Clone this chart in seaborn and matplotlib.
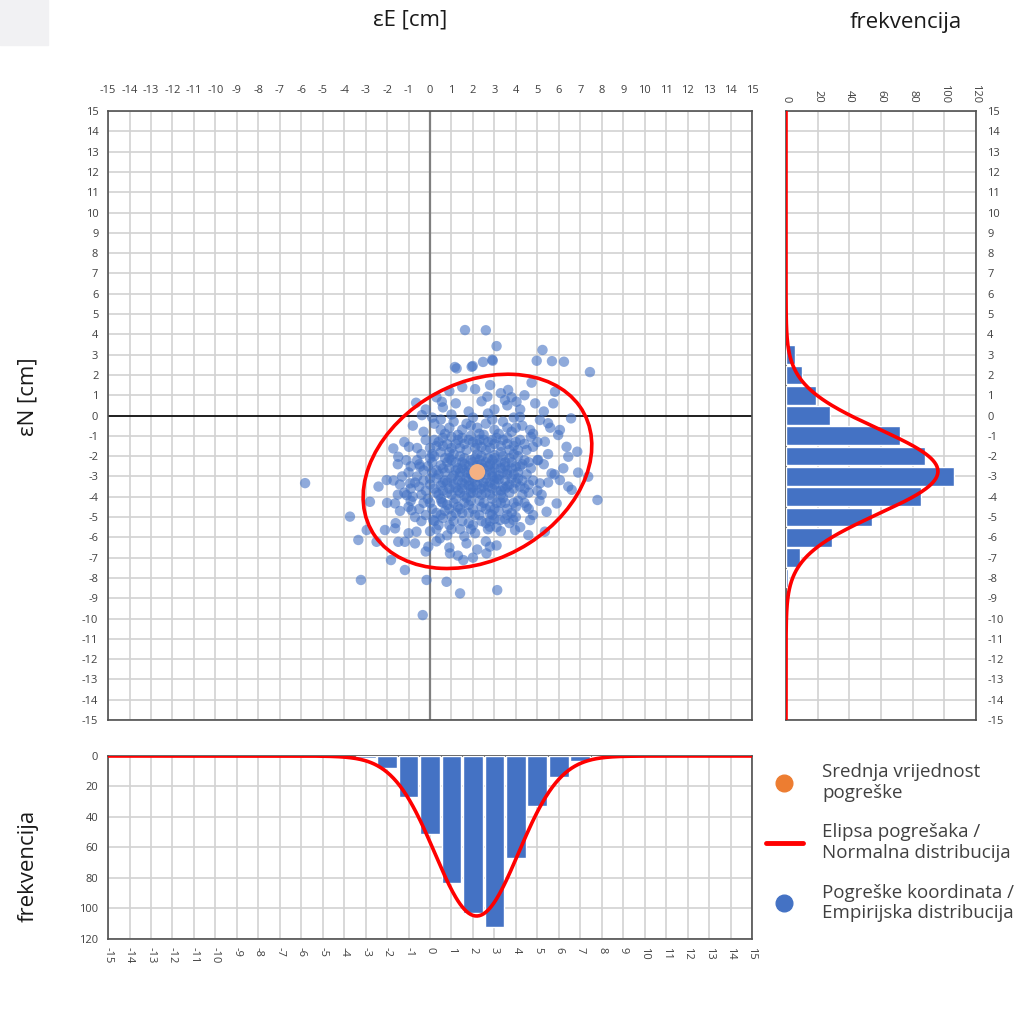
import numpy as np
import pandas as pd
import matplotlib
matplotlib.use("Agg")
import matplotlib.pyplot as plt
from matplotlib.patches import Ellipse, Rectangle
from matplotlib.lines import Line2D
import seaborn as sns

# coordinate errors (eE, eN) in cm
points = [
    # outer points
    (1.63, 4.21), (2.6, 4.2), (3.1, 3.42), (2.9, 2.75), (5.24, 3.23), (4.97, 2.70),
    (5.68, 2.68), (6.24, 2.65), (7.45, 2.14), (1.16, 2.39), (1.24, 2.32), (1.99, 2.44),
    (2.47, 2.64), (2.92, 2.70), (1.94, 2.4), (-0.65, 0.63), (-0.38, 0.02), (0.55, 0.68),
    (-1.71, -1.62), (-1.48, -2.03), (-0.98, -1.54), (-2.02, -3.18), (-2.8, -4.25),
    (-3.73, -4.98), (-3.34, -6.13), (-2.95, -5.64), (-2.49, -6.22), (-2.1, -5.64),
    (-1.63, -5.56), (-1.48, -6.22), (-1.17, -6.22), (-1.82, -7.12), (-1.17, -7.61),
    (-3.22, -8.1), (-0.16, -8.1), (0.77, -8.19), (1.4, -8.76), (-0.34, -9.83),
    (-0.86, -4.66), (-1.09, -3.92), (-1.63, -4.33), (-0.93, -3.34), (-0.47, -2.52),
    (-0.63, -5.72), (-0.08, -6.46), (0.46, -6.05), (0.93, -6.79), (1.55, -7.12),
    (0.15, -5.15), (0.54, -4.25), (-5.82, -3.33),
    (3.64, 1.26), (4.73, 1.62), (5.82, 1.17), (5.74, 0.6), (6.57, -0.14), (6.05, -0.71),
    (5.5, -0.38), (6.36, -1.54), (6.86, -1.78), (6.44, -2.03), (6.21, -2.6), (6.9, -2.81),
    (7.37, -3.01), (6.05, -3.18), (6.44, -3.5), (6.6, -3.66), (7.8, -4.16), (5.9, -4.33),
    (5.43, -4.74), (5.35, -5.72), (4.58, -5.89), (3.96, -5.64), (3.13, -8.6),
    (5.04, -2.19), (5.12, -3.34), (5.66, -2.85), (4.8, -1.54), (5.35, -1.29),
    (5.97, -0.96), (5.12, -0.22), (4.66, -0.71), (4.19, -0.07), (4.03, 0.68),
    (3.49, 0.76), (2.67, 0.93), (4.5, -4.49), (4.66, -5.15), (3.88, -5.15),
    (3.26, -5.15), (2.79, -5.48), (2.79, -6.46), (2.63, -6.79),
    # band 1 .. 0
    (0.3, 0.9), (0.9, 1.2), (1.5, 1.4), (2.1, 1.3), (2.8, 1.5), (3.3, 1.1), (3.8, 0.9),
    (4.4, 1.0), (0.6, 0.4), (1.2, 0.6), (1.8, 0.2), (2.4, 0.7), (3.0, 0.3), (3.6, 0.5),
    (4.2, 0.3), (4.9, 0.6), (-0.2, 0.3), (0.1, -0.1), (1.0, 0.05), (2.0, -0.1),
    (2.7, 0.1), (3.9, -0.1), (5.3, 0.2),
    # band 0 .. -1
    (-0.8, -0.5), (-0.3, -0.8), (0.2, -0.4), (0.7, -0.9), (1.1, -0.3), (1.5, -0.7),
    (1.9, -0.5), (2.3, -0.9), (2.6, -0.4), (3.0, -0.7), (3.4, -0.3), (3.8, -0.8),
    (4.3, -0.5), (4.8, -0.9), (5.6, -0.6), (0.5, -0.2), (2.9, -0.2), (1.3, -0.95),
    (4.0, -0.6), (0.5, -0.7), (1.7, -0.4), (2.2, -0.6), (3.2, -0.9), (0.9, -0.6),
    (2.5, -0.95), (3.6, -0.6),
    # band -1 .. -2
    (-1.2, -1.3), (-0.6, -1.6), (-0.2, -1.2), (0.3, -1.5), (0.6, -1.1), (0.9, -1.8),
    (1.2, -1.4), (1.5, -1.1), (1.7, -1.7), (2.0, -1.3), (2.2, -1.9), (2.5, -1.2),
    (2.8, -1.6), (3.1, -1.1), (3.3, -1.8), (3.6, -1.4), (3.9, -1.9), (4.2, -1.2),
    (4.5, -1.7), (5.0, -1.3), (5.5, -1.9), (1.0, -1.05), (2.4, -1.55), (3.0, -1.95),
    (0.1, -1.9), (4.7, -1.05), (1.9, -1.0),
    (0.2, -1.2), (0.8, -1.4), (1.4, -1.6), (2.1, -1.6), (2.7, -1.3), (3.3, -1.5),
    (3.9, -1.5), (4.4, -1.4), (-0.4, -1.9), (0.5, -1.8), (1.1, -1.9), (1.6, -1.4),
    (2.3, -1.2), (3.0, -1.4), (3.6, -1.1), (4.1, -1.7),
    (0.4, -1.3), (1.0, -1.6), (1.8, -1.2), (2.6, -1.7), (3.4, -1.2), (4.0, -1.3),
    (0.6, -1.5), (1.3, -1.2), (2.2, -1.4), (2.9, -1.2), (3.7, -1.7), (0.0, -1.6),
    # band -2 .. -3
    (-1.5, -2.4), (-1.0, -2.8), (-0.6, -2.2), (-0.3, -2.7), (0.1, -2.3), (0.4, -2.9),
    (0.7, -2.1), (0.9, -2.6), (1.2, -2.3), (1.4, -2.8), (1.6, -2.1), (1.8, -2.5),
    (2.0, -2.9), (2.3, -2.2), (2.5, -2.6), (2.7, -2.1), (2.9, -2.8), (3.1, -2.4),
    (3.4, -2.0), (3.6, -2.7), (3.8, -2.3), (4.1, -2.8), (4.4, -2.2), (4.7, -2.6),
    (5.3, -2.4), (5.8, -2.9), (1.1, -2.95), (2.2, -2.45), (3.2, -2.95), (0.5, -2.45),
    (1.5, -2.6), (2.6, -2.9), (3.5, -2.5), (4.2, -2.5), (1.9, -2.2), (2.8, -2.4),
    (-0.9, -2.5), (-0.1, -2.5), (0.3, -2.7), (0.8, -2.3), (1.3, -2.6), (1.7, -2.8),
    (2.1, -2.1), (2.4, -2.8), (2.9, -2.2), (3.3, -2.6), (3.7, -2.1), (4.0, -2.5),
    (4.5, -2.9), (5.0, -2.2), (0.0, -2.1), (0.6, -2.6), (1.0, -2.2), (1.6, -2.4),
    (2.1, -2.7), (2.6, -2.3), (3.0, -2.6), (3.4, -2.8), (3.9, -2.9), (4.3, -2.4),
    (0.2, -2.0), (0.9, -2.1), (1.4, -2.0), (2.0, -2.3), (2.4, -2.0), (3.0, -2.1),
    (3.5, -2.3), (4.1, -2.0), (0.1, -2.8), (0.7, -2.8), (1.2, -2.7), (1.8, -2.7),
    (2.3, -2.6), (2.8, -2.7), (3.3, -2.3), (3.8, -2.6), (4.6, -2.3), (-0.5, -2.4),
    (-1.1, -2.2), (1.5, -2.3), (2.7, -2.5), (1.9, -2.9), (3.6, -2.9), (2.4, -2.4),
    # band -3 .. -4
    (-2.4, -3.5), (-1.7, -3.2), (-1.2, -3.8), (-0.7, -3.3), (-0.4, -3.9), (0.0, -3.4),
    (0.3, -3.1), (0.6, -3.7), (0.8, -3.3), (1.0, -3.9), (1.3, -3.2), (1.5, -3.6),
    (1.7, -3.1), (1.9, -3.8), (2.1, -3.3), (2.4, -3.6), (2.6, -3.1), (2.8, -3.9),
    (3.0, -3.4), (3.3, -3.7), (3.5, -3.2), (3.7, -3.8), (4.0, -3.3), (4.3, -3.9),
    (4.6, -3.4), (5.0, -3.7), (5.5, -3.3), (1.2, -3.55), (2.0, -3.55), (2.7, -3.5),
    (0.5, -3.45), (3.9, -3.6), (1.6, -3.95), (2.3, -3.05), (3.2, -3.15), (1.8, -3.45),
    (-1.4, -3.4), (-0.9, -3.6), (-0.3, -3.2), (0.2, -3.6), (0.7, -3.2), (1.1, -3.4),
    (1.4, -3.8), (1.8, -3.2), (2.2, -3.8), (2.5, -3.3), (2.9, -3.6), (3.1, -3.1),
    (3.4, -3.5), (3.8, -3.1), (4.2, -3.5), (4.8, -3.2), (5.2, -3.9), (-0.2, -3.7),
    (0.4, -3.9), (0.9, -3.6), (1.5, -3.3), (2.0, -3.1), (2.4, -3.9), (2.8, -3.3),
    (3.3, -3.9), (3.6, -3.5), (4.4, -3.6),
    (0.0, -3.1), (0.6, -3.3), (1.0, -3.1), (1.6, -3.4), (2.0, -3.8), (2.5, -3.5),
    (3.0, -3.2), (3.5, -3.6), (4.1, -3.1), (4.6, -3.8), (-0.5, -3.5), (0.3, -3.8),
    (0.8, -3.8), (1.3, -3.7), (1.9, -3.6), (2.6, -3.8), (3.1, -3.7), (3.7, -3.4),
    (4.3, -3.2), (-1.3, -3.0), (-0.6, -3.0), (-0.8, -4.0), (-1.5, -3.9), (2.2, -3.4),
    (2.9, -3.0), (1.4, -3.0),
    # band -4 .. -5
    (-2.0, -4.3), (-1.4, -4.7), (-0.9, -4.2), (-0.5, -4.6), (-0.1, -4.1), (0.3, -4.8),
    (0.6, -4.3), (0.9, -4.6), (1.2, -4.1), (1.5, -4.8), (1.8, -4.4), (2.1, -4.9),
    (2.3, -4.2), (2.6, -4.6), (2.9, -4.1), (3.2, -4.7), (3.5, -4.3), (3.8, -4.8),
    (4.1, -4.2), (4.6, -4.6), (5.1, -4.2), (1.0, -4.95), (1.7, -4.05), (2.8, -4.85),
    (3.4, -4.05), (-1.0, -4.5), (-0.3, -4.3), (0.1, -4.6), (0.5, -4.1), (0.8, -4.4),
    (1.3, -4.5), (1.6, -4.3), (2.0, -4.6), (2.5, -4.3), (2.8, -4.5), (3.1, -4.3),
    (3.6, -4.6), (4.0, -4.5), (4.4, -4.3),
    (0.0, -4.3), (0.7, -4.7), (1.1, -4.3), (1.4, -4.6), (1.9, -4.2), (2.4, -4.5),
    (3.0, -4.6), (3.3, -4.3), (3.9, -4.3), (-0.2, -4.9), (0.5, -4.9), (1.2, -4.8),
    (1.8, -4.8), (2.3, -4.9), (2.9, -4.9), (3.6, -4.9), (4.0, -5.0), (4.8, -4.9),
    # band -5 .. -6
    (-1.6, -5.3), (-1.0, -5.8), (-0.4, -5.2), (0.0, -5.7), (0.4, -5.4), (0.8, -5.9),
    (1.1, -5.2), (1.4, -5.6), (1.8, -5.3), (2.1, -5.8), (2.4, -5.2), (2.7, -5.6),
    (3.0, -5.1), (3.3, -5.7), (3.7, -5.3), (4.2, -5.5), (1.6, -5.95), (0.6, -5.05),
    (0.2, -5.2), (0.9, -5.4), (1.5, -5.2), (2.0, -5.4), (2.6, -5.3), (3.1, -5.5),
    (3.5, -5.1), (-0.7, -5.0), (1.0, -5.6), (1.9, -5.6), (2.8, -5.2), (0.3, -5.6),
    # band -6 .. -7
    (-0.7, -6.3), (-0.2, -6.7), (0.3, -6.2), (0.9, -6.5), (1.3, -6.9), (1.7, -6.3),
    (2.2, -6.6), (2.6, -6.2), (3.1, -6.4), (2.0, -7.0),
]

mean_e, mean_n = 2.2, -2.78

# error ellipse (centre, semi axes, rotation in degrees)
ell_e, ell_n = 2.21, -2.75
ell_a, ell_b = 5.74, 4.28
ell_angle = 34

# empirical distributions (frequency per 1 cm class)
bins_e = [-3, -2, -1, 0, 1, 2, 3, 4, 5, 6, 7, 8]
counts_e = [1, 8, 27, 51, 83, 103, 112, 67, 33, 14, 3, 0.5]
bins_n = [3, 2, 1, 0, -1, -2, -3, -4, -5, -6, -7, -8]
counts_n = [6, 10, 19, 28, 72, 88, 106, 85, 54, 29, 9, 1.5]

# normal distributions
mu_e, sigma_e, n_e = 2.17, 1.95, 513
mu_n, sigma_n, n_n = -2.75, 2.1, 505

axis_ticks = list(range(-15, 16))
freq_ticks = list(range(0, 121, 20))

df = pd.DataFrame(points, columns=["e", "n"])

sns.set_style("white")
plt.rcParams["font.family"] = ["Open Sans", "DejaVu Sans"]
plt.rcParams["axes.unicode_minus"] = False

txt = "#404040"
grid_c = "#d2d2d2"
blue = "#4472C4"

fig = plt.figure(figsize=(10.30, 10.13), dpi=100)
fig.patches.append(Rectangle((0, 1 - 45 / 1013), 48 / 1030, 45 / 1013,
                             transform=fig.transFigure, color="#f1f1f3", zorder=0))


def style_axes(ax):
    ax.grid(True, color=grid_c, lw=1.2)
    ax.set_axisbelow(True)
    for sp in ax.spines.values():
        sp.set_color("#505050")
        sp.set_linewidth(1.2)
    ax.tick_params(length=0, labelsize=8, labelcolor=txt)
    ax.set_xlabel("")
    ax.set_ylabel("")


# main scatter
ax = fig.add_axes([0.1049, 0.2892, 0.6252, 0.6012])
sns.scatterplot(data=df, x="e", y="n", s=56, color=blue, alpha=0.6,
                edgecolor="none", ax=ax, legend=False, zorder=3)
sns.scatterplot(x=[mean_e], y=[mean_n], s=130, color="#F4B183",
                edgecolor="none", ax=ax, legend=False, zorder=5)
ax.add_patch(Ellipse((ell_e, ell_n), 2 * ell_a, 2 * ell_b, angle=ell_angle,
                     fill=False, color="red", lw=2.6, zorder=6))
ax.axhline(0, color="black", lw=1.2, zorder=2)
ax.axvline(0, color="#7f7f7f", lw=1.6, zorder=2)
ax.set_xlim(-15, 15)
ax.set_ylim(-15, 15)
ax.set_xticks(axis_ticks)
ax.set_yticks(axis_ticks)
ax.xaxis.tick_top()
style_axes(ax)
ax.tick_params(axis="x", pad=11)
ax.tick_params(axis="y", pad=7)

# right histogram (eN)
ax_r = fig.add_axes([0.7631, 0.2892, 0.1845, 0.6012])
sns.barplot(x=counts_n, y=bins_n, orient="y", native_scale=True, width=0.92,
            color=blue, saturation=1, errorbar=None, ax=ax_r, zorder=3)
yy = np.linspace(-15, 15, 601)
pdf_n = n_n / (sigma_n * np.sqrt(2 * np.pi)) * np.exp(-0.5 * ((yy - mu_n) / sigma_n) ** 2)
sns.lineplot(x=pdf_n, y=yy, orient="y", sort=False, estimator=None,
             color="red", lw=2.6, ax=ax_r, zorder=4)
ax_r.set_xlim(0, 120)
ax_r.set_ylim(-15, 15)
ax_r.set_xticks(freq_ticks)
ax_r.set_yticks(axis_ticks)
ax_r.xaxis.tick_top()
ax_r.yaxis.tick_right()
style_axes(ax_r)
ax_r.tick_params(axis="x", pad=6, labelrotation=-90)
ax_r.tick_params(axis="y", pad=8)
for lab in ax_r.get_yticklabels():
    lab.set_ha("left")

# bottom histogram (eE)
ax_b = fig.add_axes([0.1049, 0.0731, 0.6252, 0.1806])
sns.barplot(x=bins_e, y=counts_e, native_scale=True, width=0.92,
            color=blue, saturation=1, errorbar=None, ax=ax_b, zorder=3)
xx = np.linspace(-15, 15, 601)
pdf_e = n_e / (sigma_e * np.sqrt(2 * np.pi)) * np.exp(-0.5 * ((xx - mu_e) / sigma_e) ** 2)
sns.lineplot(x=xx, y=pdf_e, color="red", lw=2.6, ax=ax_b, zorder=4)
ax_b.set_xlim(-15, 15)
ax_b.set_ylim(120, 0)
ax_b.set_xticks(axis_ticks)
ax_b.set_yticks(freq_ticks)
style_axes(ax_b)
ax_b.tick_params(axis="x", pad=6, labelrotation=-90)
ax_b.tick_params(axis="y", pad=7)

# titles
title_kw = dict(ha="center", va="center", fontsize=16, color="#1a1a1a")
fig.text(0.398, 0.980, "εE [cm]", **title_kw)
fig.text(0.879, 0.978, "frekvencija", **title_kw)
fig.text(0.027, 0.608, "εN [cm]", rotation=90, **title_kw)
fig.text(0.027, 0.145, "frekvencija", rotation=90, **title_kw)

# legend
handles = [
    Line2D([], [], marker="o", ls="", color="#ED7D31", markersize=12),
    Line2D([], [], color="red", lw=3.5),
    Line2D([], [], marker="o", ls="", color=blue, markersize=12),
]
labels = [
    "Srednja vrijednost\npogreške",
    "Elipsa pogrešaka /\nNormalna distribucija",
    "Pogreške koordinata /\nEmpirijska distribucija",
]
leg = fig.legend(handles, labels, loc="upper left", bbox_to_anchor=(0.727, 0.2636),
                 frameon=False, fontsize=13.5, labelspacing=1.15, handlelength=2.0,
                 handletextpad=1.0)
for t in leg.get_texts():
    t.set_color(txt)

fig.savefig("out.png", dpi=100)
